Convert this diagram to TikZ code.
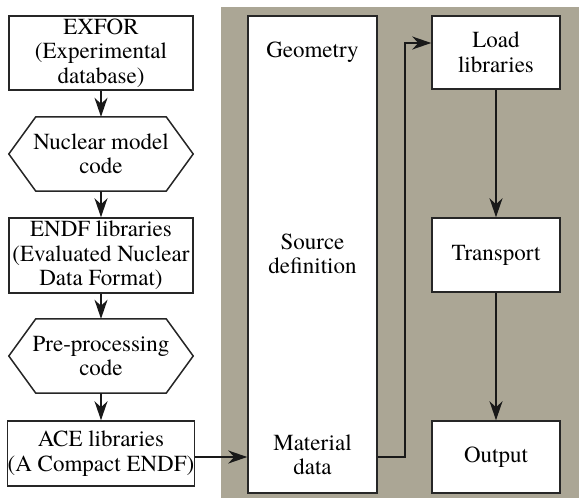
\documentclass[tikz,border=0pt]{standalone}
\usepackage{fontspec}
\setmainfont{TeX Gyre Termes}
\usetikzlibrary{arrows.meta,calc}
\definecolor{panelgray}{RGB}{171,166,149}
\tikzset{
  txt/.style={font=\rmfamily\fontsize{23}{24.5}\selectfont},
  box/.style={txt, draw=black!85, line width=1.5pt, fill=white, inner sep=0pt, align=center},
  hexbox/.style={txt, inner sep=0pt, align=center, minimum width=184pt, minimum height=74pt},
  hexline/.style={draw=black!85, line width=1.5pt, fill=white},
  lbl/.style={txt, inner sep=0pt, align=center},
  arr/.style={draw=black!90, line width=1.5pt, -{Stealth[length=19pt 0,width=13pt 0,inset=6pt 0]}}
}
\begin{document}
\begin{tikzpicture}[x=1pt,y=-1pt]
\useasboundingbox (0,0) rectangle (579,498);
\fill[panelgray] (221,7) rectangle (579,498);

% left column
\node[box, minimum width=184pt, minimum height=74pt] (exfor) at (101,53) {EXFOR\\(Experimental\\database)};
\node[hexbox] (hex1) at (101,154) {};
\draw[hexline] (hex1.west) -- ($(hex1.north west)+(27,0)$) -- ($(hex1.north east)+(-27,0)$) -- (hex1.east) -- ($(hex1.south east)+(-27,0)$) -- ($(hex1.south west)+(27,0)$) -- cycle;
\node[lbl] (hex1t) at (hex1.center) {Nuclear model\\code};
\node[box, minimum width=184pt, minimum height=75pt] (endf) at (101,255.5) {ENDF libraries\\(Evaluated Nuclear\\Data Format)};
\node[hexbox] (hex2) at (101,356) {};
\draw[hexline] (hex2.west) -- ($(hex2.north west)+(27,0)$) -- ($(hex2.north east)+(-27,0)$) -- (hex2.east) -- ($(hex2.south east)+(-27,0)$) -- ($(hex2.south west)+(27,0)$) -- cycle;
\node[lbl] (hex2t) at (hex2.center) {Pre-processing\\code};
\node[box, minimum width=184pt, minimum height=65pt] (ace) at (101,453.5) {ACE libraries\\(A Compact ENDF)};

\draw[arr] (exfor.south) -- (hex1.north);
\draw[arr] (hex1.south) -- (endf.north);
\draw[arr] (endf.south) -- (hex2.north);
\draw[arr] (hex2.south) -- (ace.north);

% right panel
\node[box, minimum width=129pt, minimum height=477pt] (big) at (312.5,254.5) {};
\node[lbl] (geo) at (312.5,52) {Geometry};
\node[lbl] (src) at (312.5,254) {Source\\definition};
\node[lbl] (mat) at (312.5,455) {Material\\data};

\node[box, minimum width=128pt, minimum height=73pt] (load) at (496,52.5) {Load\\libraries};
\node[box, minimum width=128pt, minimum height=74pt] (trans) at (496,255) {Transport};
\node[box, minimum width=128pt, minimum height=72pt] (out) at (496,457) {Output};

\coordinate (aceout) at ($(ace.east)+(0,3.5)$);
\draw[arr] (aceout) -- (aceout -| big.west);
\coordinate (loadin) at ($(load.west)+(0,-9.5)$);
\draw[arr] (aceout -| big.east) -- ++(27,0) |- (loadin);
\draw[arr] (load.south) -- (trans.north);
\draw[arr] (trans.south) -- (out.north);
\end{tikzpicture}
\end{document}
